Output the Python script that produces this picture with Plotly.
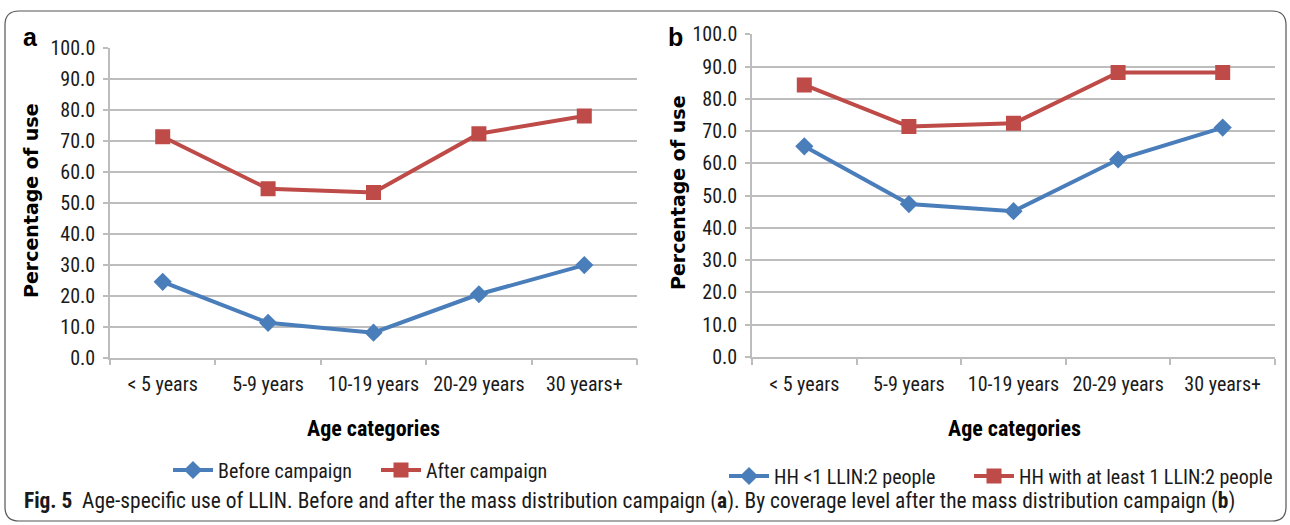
import plotly.graph_objects as go

W, H = 1290, 525

categories = ["< 5 years", "5-9 years", "10-19 years", "20-29 years", "30 years+"]
before_campaign = [24.4, 11.2, 8.0, 20.4, 29.8]
after_campaign = [71.2, 54.4, 53.2, 72.2, 77.9]
hh_less_1 = [65.3, 47.4, 45.2, 61.2, 71.1]
hh_at_least_1 = [84.3, 71.4, 72.4, 88.2, 88.2]
y_ticks = [0, 10, 20, 30, 40, 50, 60, 70, 80, 90, 100]

BLUE = "#4a7ebb"
RED = "#be4b48"
GRID = "#bdbdbd"
NARROW = "Liberation Sans Narrow, Arial Narrow, Roboto Condensed, sans-serif"
WIDE = "DejaVu Sans, Verdana, sans-serif"


def px(x):
    return x / W


def py(y):
    return 1 - y / H


fig = go.Figure()

series = [
    ("x", "y", "legend", before_campaign, "Before campaign", BLUE, "diamond", 14),
    ("x", "y", "legend2", after_campaign, "After campaign", RED, "square", 15),
    ("x2", "y2", "legend3", hh_less_1, "HH <1 LLIN:2 people", BLUE, "diamond", 14),
    ("x2", "y2", "legend4", hh_at_least_1, "HH with at least 1 LLIN:2 people", RED, "square", 15),
]
for xa, ya, lg, vals, name, col, sym, size in series:
    fig.add_trace(go.Scatter(
        x=categories, y=vals, name=name, xaxis=xa, yaxis=ya, legend=lg,
        mode="lines+markers",
        line=dict(color=col, width=4),
        marker=dict(symbol=sym, size=size, color=col),
    ))

common_y = dict(
    range=[0, 100], tickvals=y_ticks, tickformat=".1f",
    showgrid=True, gridcolor=GRID, gridwidth=1.5,
    showline=True, linecolor=GRID, linewidth=1.5,
    ticks="outside", ticklen=5, tickcolor=GRID, tickwidth=1.5,
    ticklabelstandoff=4,
    tickfont=dict(family=NARROW, size=20, color="#1a1a1a"),
    zeroline=False, automargin=False, fixedrange=True,
)
common_x = dict(
    type="category", showgrid=False,
    showline=True, linecolor=GRID, linewidth=1.5,
    ticks="outside", tickson="boundaries", ticklen=6, tickcolor=GRID, tickwidth=1.5,
    ticklabelstandoff=8,
    tickfont=dict(family=NARROW, size=20, color="#1a1a1a"),
    range=[-0.5, 4.5], automargin=False, fixedrange=True,
)

leg_common = dict(
    orientation="h", xanchor="left", yanchor="middle",
    font=dict(family=NARROW, size=20, color="#1a1a1a"),
    bgcolor="rgba(0,0,0,0)", itemwidth=40, borderwidth=0,
)

fig.update_layout(
    width=W, height=H,
    margin=dict(l=0, r=0, t=0, b=0),
    paper_bgcolor="white", plot_bgcolor="white",
    xaxis=dict(domain=[px(110), px(637)], anchor="y", **common_x),
    yaxis=dict(domain=[py(357.5), py(47.5)], anchor="x", **common_y),
    xaxis2=dict(domain=[px(752), px(1275)], anchor="y2", **common_x),
    yaxis2=dict(domain=[py(357), py(34.3)], anchor="x2", **common_y),
    legend=dict(x=px(168), y=py(470), **leg_common),
    legend2=dict(x=px(376), y=py(470), **leg_common),
    legend3=dict(x=px(724), y=py(476), **leg_common),
    legend4=dict(x=px(969), y=py(476), **leg_common),
    showlegend=True,
)

# Axis titles and panel labels
ann = [
    dict(text="<b>a</b>", x=px(30), y=py(37), font=dict(family="Liberation Sans, Arial", size=25, color="black")),
    dict(text="<b>b</b>", x=px(675), y=py(37), font=dict(family="Liberation Sans, Arial", size=25, color="black")),
    dict(text="<b>Percentage of use</b>", x=px(31), y=py(201), textangle=-90,
         font=dict(family=WIDE, size=19, color="black")),
    dict(text="<b>Percentage of use</b>", x=px(678), y=py(193), textangle=-90,
         font=dict(family=WIDE, size=19, color="black")),
    dict(text="<b>Age categories</b>", x=px(373), y=py(428),
         font=dict(family=NARROW, size=22, color="black")),
    dict(text="<b>Age categories</b>", x=px(1014), y=py(428),
         font=dict(family=NARROW, size=22, color="black")),
    dict(text="<b>Fig. 5</b>  Age-specific use of LLIN. Before and after the mass distribution campaign (<b>a</b>). "
              "By coverage level after the mass distribution campaign (<b>b</b>)",
         x=px(22), y=py(501), xanchor="left",
         font=dict(family=NARROW, size=21.4, color="#1a1a1a")),
]
for a in ann:
    a.setdefault("xanchor", "center")
    fig.add_annotation(xref="paper", yref="paper", yanchor="middle", showarrow=False, **a)

# Rounded border
x0, x1, y0, y1, r = 5, 1286, 11, 521, 14
path = (
    f"M {px(x0 + r)},{py(y0)} L {px(x1 - r)},{py(y0)} "
    f"Q {px(x1)},{py(y0)} {px(x1)},{py(y0 + r)} "
    f"L {px(x1)},{py(y1 - r)} Q {px(x1)},{py(y1)} {px(x1 - r)},{py(y1)} "
    f"L {px(x0 + r)},{py(y1)} Q {px(x0)},{py(y1)} {px(x0)},{py(y1 - r)} "
    f"L {px(x0)},{py(y0 + r)} Q {px(x0)},{py(y0)} {px(x0 + r)},{py(y0)} Z"
)
fig.add_shape(type="path", path=path, xref="paper", yref="paper",
              line=dict(color="#555555", width=1.2), layer="below")

fig.write_html(
    "out.html",
    config={"displayModeBar": False},
    post_script="document.body.style.margin='0';document.body.style.overflow='hidden';",
)
